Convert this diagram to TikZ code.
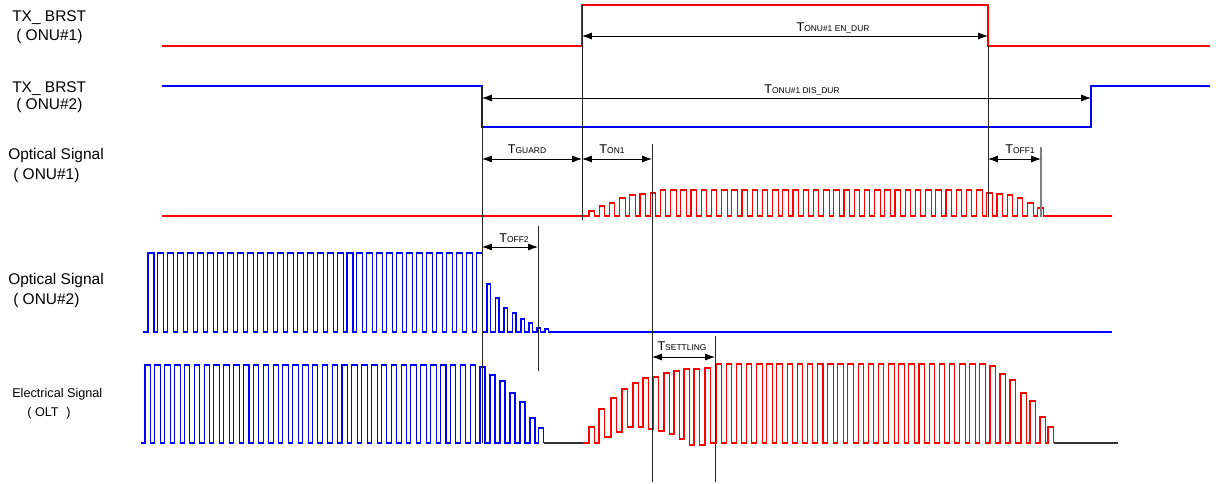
\documentclass[tikz,border=0pt]{standalone}
\usepackage{fontspec}
\setmainfont{Liberation Sans}
\usetikzlibrary{arrows.meta}

\newcommand{\tsym}[1]{{\fontsize{9}{10}\selectfont T}{\fontsize{6}{7}\selectfont #1}}

\tikzset{
  siglab/.style={anchor=base west, inner sep=0pt, font=\fontsize{11}{13}\selectfont},
  siglabsmall/.style={anchor=base west, inner sep=0pt, font=\fontsize{9}{11}\selectfont},
  tlab/.style={anchor=base, inner sep=0pt},
  sigred/.style={draw=red, line width=0.75pt},
  sigblue/.style={draw=blue, line width=0.75pt},
  enred/.style={draw=red, line width=0.9pt},
  enblue/.style={draw=blue, line width=0.9pt},
  sigbase/.style={draw=black!80, line width=0.9pt},
  marker/.style={draw=black!85, line width=0.6pt},
  markergray/.style={draw=black!50, line width=0.9pt},
  dimline/.style={draw=black, line width=0.6pt, {Latex[length=7pt,width=5pt]}-{Latex[length=7pt,width=5pt]}}
}

\begin{document}
\begin{tikzpicture}[x=0.025cm, y=-0.025cm]
    \useasboundingbox (0,0) rectangle (1224,484);

    % signal names
    \node[siglab] (txa1) at (12,22) {TX\_ BRST};
    \node[siglab] (txa2) at (16,41) {( ONU\#1)};
    \node[siglab] (txb1) at (12,93) {TX\_ BRST};
    \node[siglab] (txb2) at (16,110) {( ONU\#2)};
    \node[siglab] (opa1) at (8,160) {Optical Signal};
    \node[siglab] (opa2) at (13,180) {( ONU\#1)};
    \node[siglab] (opb1) at (8,285) {Optical Signal};
    \node[siglab] (opb2) at (13,305) {( ONU\#2)};
    \node[siglabsmall] (el1) at (12,398) {Electrical Signal};
    \node[siglabsmall] (el2) at (27,417) {( OLT \hspace{3pt})};

    % burst enables
    \draw[enred] (162,46) -- (582,46) -- (582,5) -- (988,5) -- (988,46) -- (1210,46);
    \draw[enblue] (162,86) -- (482,86) -- (482,127) -- (1091,127) -- (1091,86) -- (1210,86);

    % optical signal ONU#1
    \draw[sigred] (162,216)
      \foreach \x/\t in {589/211, 599.2/206, 609.4/203, 619.6/198, 629.8/195, 640/194, 650.2/193, 660.4/190}
        { -| (\x,\t) -- ({\x+5.5},\t) -- ({\x+5.5},216) }
      \foreach \n in {8,...,38}
        { -| ({589+10.2*\n},190) -- ({594.5+10.2*\n},190) -- ({594.5+10.2*\n},216) }
      \foreach \x/\t in {986.8/193, 997/194, 1007.2/195, 1017.4/198, 1027.6/203, 1037.8/208}
        { -| (\x,\t) -- ({\x+5.5},\t) -- ({\x+5.5},216) }
      -- (1112,216);

    % optical signal ONU#2
    \draw[sigblue] (143,332)
      \foreach \n in {0,...,33}
        { -| ({148+9.95*\n},253) -- ({154+9.95*\n},253) -- ({154+9.95*\n},332) }
      \foreach \x/\t in {487/284, 495.5/298, 504/308, 512.5/313, 521/319, 529/323, 537/328, 545/329}
        { -| (\x,\t) -- ({\x+3.5},\t) -- ({\x+3.5},332) }
      -- (1112,332);

    % electrical signal OLT
    \draw[sigblue] (141,443)
      \foreach \n in {0,...,33}
        { -| ({145+9.85*\n},365) -- ({150.5+9.85*\n},365) -- ({150.5+9.85*\n},443) }
      \foreach \x/\t in {480/367, 490/375, 500/381, 510/393, 520/402, 530/418, 538.5/428}
        { -| (\x,\t) -- ({\x+5},\t) -- ({\x+5},443) };
    \draw[sigbase] (543.5,443) -- (583,443);
    \draw[sigred] (583,443)
      \foreach \x/\t/\b in {589/427/443, 599/409/437, 611/398/432, 622/389/427, 633/383/427, 643/378/429,
                            653/377/431, 664/373/434, 674/371/439, 684/369/445, 694/369/445, 705/368/443}
        { -| (\x,\t) -- ({\x+5.5},\t) -- ({\x+5.5},\b) }
      \foreach \k in {0,...,26}
        { -| ({716+10.15*\k},364) -- ({721.5+10.15*\k},364) -- ({721.5+10.15*\k},443) }
      \foreach \x/\t in {990/366, 1000/374, 1010/380, 1021/393, 1030/401, 1040/417, 1048/427}
        { -| (\x,\t) -- ({\x+5.5},\t) -- ({\x+5.5},443) };
    \draw[sigbase] (1053.5,443) -- (1118,443);

    % timing markers
    \coordinate (gA) at (482,86);    \coordinate (gB) at (482,443);
    \coordinate (onA) at (582,5);    \coordinate (onB) at (582,220);
    \coordinate (stA) at (652,144);  \coordinate (stB) at (652,482);
    \coordinate (seA) at (715,336);  \coordinate (seB) at (715,482);
    \coordinate (ofA) at (988,46);   \coordinate (ofB) at (988,217);
    \coordinate (f1A) at (1041,147); \coordinate (f1B) at (1041,217);
    \coordinate (f2A) at (538,226);  \coordinate (f2B) at (538,371);
    \draw[marker] (gA) -- (gB);
    \draw[marker] (onA) -- (onB);
    \draw[marker] (stA) -- (stB);
    \draw[marker] (seA) -- (seB);
    \draw[marker] (ofA) -- (ofB);
    \draw[markergray] (f1A) -- (f1B);
    \draw[marker] (f2A) -- (f2B);

    % durations
    \coordinate (enL) at (582,36);   \coordinate (enR) at (988,36);
    \coordinate (dsL) at (482,98);   \coordinate (dsR) at (1091,98);
    \coordinate (gdL) at (482,159);  \coordinate (gdR) at (582,159);
    \coordinate (t1R) at (652,159);
    \coordinate (o1L) at (988,159);  \coordinate (o1R) at (1041,159);
    \coordinate (o2L) at (482,247);  \coordinate (o2R) at (538,247);
    \coordinate (sL) at (652,357);   \coordinate (sR) at (715,357);
    \draw[dimline] (enL) -- (enR);
    \draw[dimline] (dsL) -- (dsR);
    \draw[dimline] (gdL) -- (gdR);
    \draw[dimline] (gdR) -- (t1R);
    \draw[dimline] (o1L) -- (o1R);
    \draw[dimline] (o2L) -- (o2R);
    \draw[dimline] (sL) -- (sR);

    \node[tlab] (lblEn) at (833,32) {\tsym{ONU\#1 EN\_DUR}};
    \node[tlab] (lblDis) at (802,94) {\tsym{ONU\#1 DIS\_DUR}};
    \node[tlab] (lblGuard) at (527,154) {\tsym{GUARD}};
    \node[tlab] (lblOn) at (612,154) {\tsym{ON1}};
    \node[tlab] (lblOff1) at (1020,154) {\tsym{OFF1}};
    \node[tlab] (lblOff2) at (514,243) {\tsym{OFF2}};
    \node[tlab] (lblSet) at (682,351) {\tsym{SETTLING}};
\end{tikzpicture}
\end{document}
